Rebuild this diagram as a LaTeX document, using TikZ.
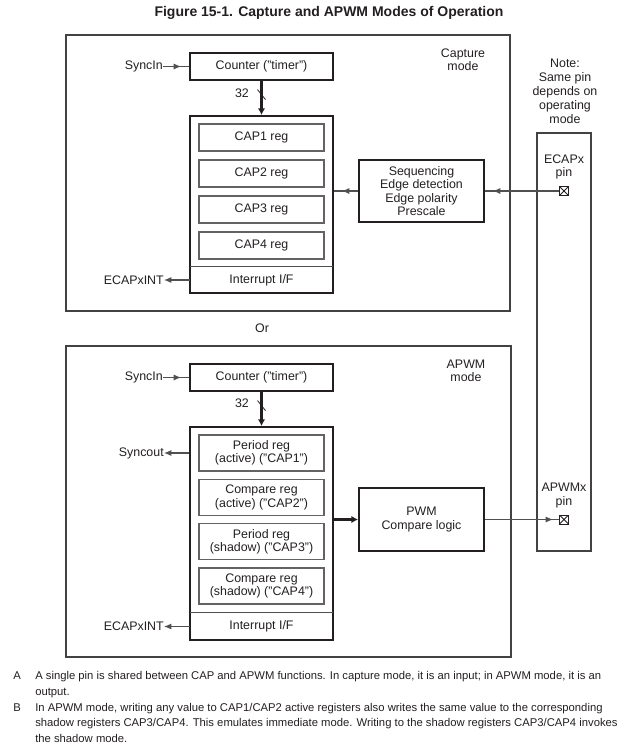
\documentclass[tikz,border=0pt]{standalone}
\usepackage{fontspec}
\setmainfont{Liberation Sans}
\usetikzlibrary{arrows.meta,decorations.markings}
\definecolor{ink}{HTML}{231F20}
\definecolor{wire}{HTML}{505050}

\begin{document}
\begin{tikzpicture}[x=0.75pt,y=-0.75pt,
  every node/.style={text=ink,inner sep=0pt,font=\fontsize{9.3}{10}\selectfont},
  frame/.style={draw=ink!85,line width=0.9pt},
  blockbox/.style={draw=ink,line width=1.4pt,minimum width=143*0.75pt},
  regbox/.style={draw=ink!70,line width=0.8pt,minimum width=125*0.75pt,align=center},
  logicbox/.style={draw=ink,line width=1.4pt,minimum width=125*0.75pt,align=center},
  wirearrow/.style={color=wire,line width=0.8pt,-{Latex[length=5.5pt,width=4.5pt]}},
  midtip/.style={color=wire,line width=0.8pt,postaction={decorate},
    decoration={markings,mark=at position #1 with {\arrow{Latex[length=5.5pt,width=4.5pt]}}}},
  midtip/.default=-6pt,
  bus/.style={draw=ink,line width=2.2pt,-{Latex[length=5pt,width=5.5pt]}},
  pinbox/.style={draw=ink,line width=0.7pt,minimum size=9*0.75pt,
    path picture={\draw[ink,line width=0.6pt]
      (path picture bounding box.north west) -- (path picture bounding box.south east)
      (path picture bounding box.south west) -- (path picture bounding box.north east);}},
  footnote/.style={anchor=base west,align=left,font=\fontsize{8.45}{11.6}\selectfont}]
  \useasboundingbox (0,0) rectangle (621,747);

  \node[font=\bfseries\fontsize{10.5}{12}\selectfont] (title) at (329,13)
    {Figure 15-1. Capture and APWM Modes of Operation};

  % Capture mode
  \draw[frame] (66,35) rectangle (510,311);
  \node[align=center] (capmode) at (463,59.5) {Capture\\mode};
  \node[blockbox,minimum height=27*0.75pt] (ctrA) at (261.5,66.5) {Counter ("timer")};
  \node[anchor=east] (syncinA) at (163,66.5) {SyncIn};
  \node[blockbox,minimum height=177*0.75pt] (capA) at (261.5,204.5) {};
  \foreach \i/\y in {1/137.5,2/173.5,3/209.5,4/245.5}
    \node[regbox,minimum height=27*0.75pt] (capreg\i) at (261.5,\y) {CAP\i{} reg};
  \node[minimum width=143*0.75pt,minimum height=26*0.75pt] (intA) at (261.5,280) {Interrupt I/F};
  \draw[color=wire,line width=0.8pt] (intA.north west) -- (intA.north east);
  \node[anchor=east] (ecapintA) at (164,280) {ECAPxINT};
  \node[logicbox,minimum height=62*0.75pt] (seq) at (421.5,191)
    {Sequencing\\Edge detection\\Edge polarity\\Prescale};
  \draw[midtip] (syncinA.east) -- (ctrA.west);
  \draw[bus] (ctrA.south) -- (capA.north) coordinate[pos=0.4] (cutA);
  \draw[ink,line width=0.6pt] (cutA) ++(-4,-5) -- ++(8,10);
  \node (busA) at (242,93) {32};
  \draw[midtip] (seq.west) -- (seq.west -| capA.east);
  \draw[wirearrow] (intA.west) -- (ecapintA.east);

  % pin column
  \draw[frame] (537,133) rectangle (591,551);
  \node[align=center,font=\fontsize{9.3}{10.6}\selectfont] (note) at (565,91.5)
    {Note:\\Same pin\\depends on\\operating\\mode};
  \node[align=center] (ecaplbl) at (564,167) {ECAPx\\pin};
  \node[pinbox] (ecappin) at (564,191) {};
  \draw[midtip] (ecappin.west) -- (seq.east);

  \node (or) at (262,328) {Or};

  % APWM mode
  \draw[frame] (66,346) rectangle (511,657);
  \node[align=center] (pwmmode) at (466,370.5) {APWM\\mode};
  \node[blockbox,minimum height=27*0.75pt] (ctrB) at (261.5,377.5) {Counter ("timer")};
  \node[anchor=east] (syncinB) at (163,377.5) {SyncIn};
  \node[blockbox,minimum height=213*0.75pt] (capB) at (261.5,533.5) {};
  \foreach \i/\y/\lbl in {1/453/Period reg\\(active) ("CAP1"),
                          2/497.3/Compare reg\\(active) ("CAP2"),
                          3/541.6/Period reg\\(shadow) ("CAP3"),
                          4/586/Compare reg\\(shadow) ("CAP4")}
    \node[regbox,minimum height=36*0.75pt] (pwmreg\i) at (261.5,\y) {\lbl};
  \node[minimum width=143*0.75pt,minimum height=27*0.75pt] (intB) at (261.5,626.5) {Interrupt I/F};
  \draw[color=wire,line width=0.8pt] (intB.north west) -- (intB.north east);
  \node[anchor=east] (ecapintB) at (164,626.5) {ECAPxINT};
  \node[anchor=east] (syncout) at (164,453) {Syncout};
  \node[logicbox,minimum height=63*0.75pt] (pwm) at (421.5,519.5) {PWM\\Compare logic};
  \node[align=center] (apwmlbl) at (564,495.5) {APWMx\\pin};
  \node[pinbox] (apwmpin) at (564,519.5) {};
  \draw[midtip] (syncinB.east) -- (ctrB.west);
  \draw[bus] (ctrB.south) -- (capB.north) coordinate[pos=0.4] (cutB);
  \draw[ink,line width=0.6pt] (cutB) ++(-4,-5) -- ++(8,10);
  \node (busB) at (242,403) {32};
  \draw[wirearrow] (pwmreg1.west -| capB.west) -- (syncout.east);
  \draw[wirearrow] (intB.west) -- (ecapintB.east);
  \draw[bus] (pwm.west -| capB.east) -- (pwm.west);
  \draw[midtip=-4.5pt] (pwm.east) -- (apwmpin.west);

  % notes (base = last line)
  \node[footnote] (keyA) at (13,679) {A};
  \node[footnote] (noteA) at (35,695)
    {A single pin is shared between CAP and APWM functions. In capture mode, it is an input; in APWM mode, it is an\\output.};
  \node[footnote] (keyB) at (13,711) {B};
  \node[footnote] (noteB) at (35,742)
    {In APWM mode, writing any value to CAP1/CAP2 active registers also writes the same value to the corresponding\\shadow registers CAP3/CAP4. This emulates immediate mode. Writing to the shadow registers CAP3/CAP4 invokes\\the shadow mode.};
\end{tikzpicture}
\end{document}
